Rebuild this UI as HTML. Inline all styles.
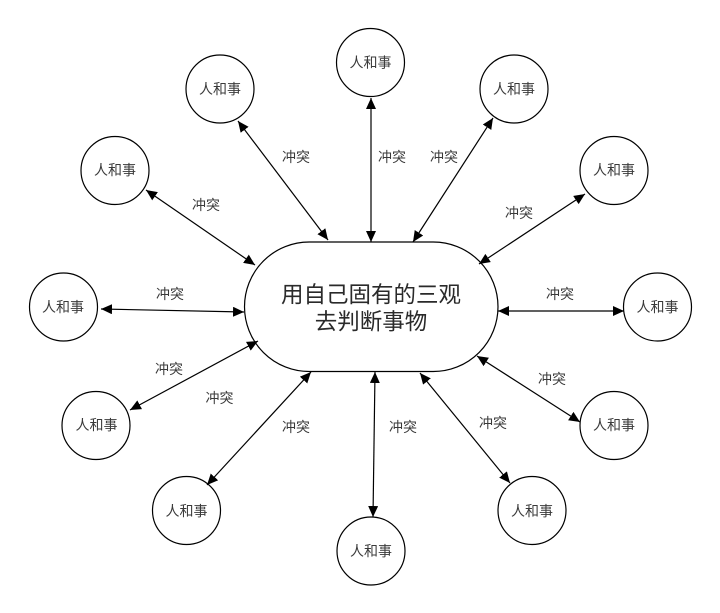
<!DOCTYPE html>
<html><head><meta charset="utf-8"><style>
html,body{margin:0;padding:0;background:#fff;width:720px;height:613px;overflow:hidden}
svg{display:block}
text{font-family:"Liberation Sans","Noto Sans CJK SC",sans-serif;fill:#3a3a3a;text-anchor:middle;dominant-baseline:central}
.n{font-size:14px}
.m{font-size:22.5px;fill:#2a2a2a}
circle,rect{fill:#fff;stroke:#000;stroke-width:1.2}
line{stroke:#000;stroke-width:1.2}
</style></head><body>
<svg width="720" height="613" viewBox="0 0 720 613" xmlns="http://www.w3.org/2000/svg">
<defs>
<marker id="a" viewBox="0 0 11 10" refX="11" refY="5" markerUnits="userSpaceOnUse" markerWidth="11" markerHeight="10" orient="auto-start-reverse"><path d="M0 0L11 5L0 10z" fill="#000"/></marker>
</defs>
<rect x="244.500" y="242" width="253.500" height="129.500" rx="64.700" ry="64.700"/>
<circle cx="370.500" cy="62.500" r="34"/><circle cx="220" cy="89" r="34"/><circle cx="514" cy="89" r="34"/>
<circle cx="115" cy="170.500" r="34"/><circle cx="614" cy="170.500" r="34"/><circle cx="63.500" cy="307" r="34"/>
<circle cx="657.500" cy="307" r="34"/><circle cx="96" cy="425.500" r="34"/><circle cx="614" cy="425.500" r="34"/>
<circle cx="186.500" cy="510.500" r="34"/><circle cx="532" cy="510.500" r="34"/><circle cx="371" cy="551" r="34"/>
<line x1="371" y1="98" x2="371" y2="242" marker-start="url(#a)" marker-end="url(#a)"/>
<line x1="238" y1="121" x2="328" y2="240" marker-start="url(#a)" marker-end="url(#a)"/>
<line x1="493" y1="118" x2="413" y2="242" marker-start="url(#a)" marker-end="url(#a)"/>
<line x1="146" y1="190" x2="255" y2="265" marker-start="url(#a)" marker-end="url(#a)"/>
<line x1="585" y1="194" x2="479" y2="264" marker-start="url(#a)" marker-end="url(#a)"/>
<line x1="101" y1="309" x2="244" y2="312" marker-start="url(#a)" marker-end="url(#a)"/>
<line x1="498" y1="311" x2="624" y2="311" marker-start="url(#a)" marker-end="url(#a)"/>
<line x1="130" y1="410" x2="258" y2="341" marker-start="url(#a)" marker-end="url(#a)"/>
<line x1="477" y1="356" x2="580" y2="422" marker-start="url(#a)" marker-end="url(#a)"/>
<line x1="207" y1="485" x2="311" y2="372" marker-start="url(#a)" marker-end="url(#a)"/>
<line x1="420" y1="373" x2="510" y2="483" marker-start="url(#a)" marker-end="url(#a)"/>
<line x1="375" y1="372" x2="373" y2="517" marker-start="url(#a)" marker-end="url(#a)"/>
<text class="m" x="371" y="295">用自己固有的三观</text>
<text class="m" x="371" y="322">去判断事物</text>
<text class="n" x="370.500" y="62.500">人和事</text><text class="n" x="220" y="89">人和事</text><text class="n" x="514" y="89">人和事</text>
<text class="n" x="115" y="170">人和事</text><text class="n" x="614" y="170">人和事</text><text class="n" x="63" y="307">人和事</text>
<text class="n" x="657.500" y="307">人和事</text><text class="n" x="96.500" y="425">人和事</text><text class="n" x="614" y="425">人和事</text>
<text class="n" x="186.500" y="511">人和事</text><text class="n" x="532" y="511">人和事</text><text class="n" x="371" y="551">人和事</text>
<text class="n" x="296" y="157">冲突</text><text class="n" x="392" y="157">冲突</text><text class="n" x="444" y="157">冲突</text>
<text class="n" x="206" y="205">冲突</text><text class="n" x="519" y="213">冲突</text><text class="n" x="170" y="294">冲突</text>
<text class="n" x="560" y="294">冲突</text><text class="n" x="169" y="369">冲突</text><text class="n" x="219.500" y="398">冲突</text>
<text class="n" x="296" y="427">冲突</text><text class="n" x="403" y="427">冲突</text><text class="n" x="552" y="379">冲突</text>
<text class="n" x="493" y="423">冲突</text>
</svg>
</body></html>
